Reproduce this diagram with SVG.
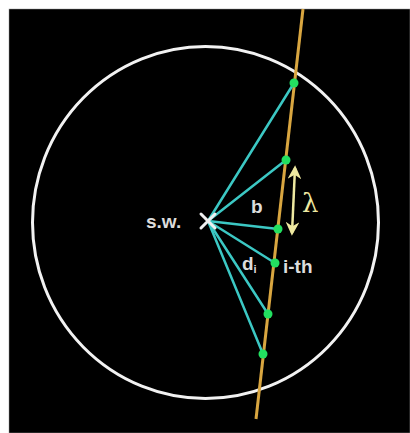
<svg xmlns="http://www.w3.org/2000/svg" width="410" height="433" viewBox="0 0 410 433">
<defs>
<style>
.ray{stroke:#3cc8c4;stroke-width:2.5;fill:none;stroke-linecap:round}
.dot{fill:#22e060}
.lbl{font-family:"Liberation Sans",Arial,sans-serif;font-weight:bold;fill:#dcdcdc;font-size:19px}
</style>
<marker id="ah" viewBox="0 0 10 10" refX="8" refY="5" markerWidth="5.5" markerHeight="5.5" orient="auto-start-reverse">
<path d="M0,0 L10,5 L0,10 L3,5 Z" fill="#eee8a0"/>
</marker>
</defs>
<rect x="0" y="0" width="410" height="433" fill="#ffffff"/>
<rect x="9" y="9" width="401" height="424" fill="#000000" stroke="#999" stroke-width="0.5"/>
<ellipse cx="205.5" cy="222.5" rx="173" ry="176" fill="none" stroke="#f2f2f2" stroke-width="3"/>
<line id="track" x1="303" y1="9" x2="256" y2="419" stroke="#d9a640" stroke-width="3"/>
<g id="connectors">
<line class="ray" x1="208" y1="221" x2="294" y2="83"/>
<line class="ray" x1="208" y1="221" x2="286" y2="160"/>
<line class="ray" x1="208" y1="221" x2="278" y2="229"/>
<line class="ray" x1="208" y1="221" x2="275" y2="263"/>
<line class="ray" x1="208" y1="221" x2="268" y2="314"/>
<line class="ray" x1="208" y1="221" x2="263" y2="354"/>
</g>
<g id="n1"><circle class="dot" cx="294" cy="83" r="4.5"/></g>
<g id="n2"><circle class="dot" cx="286" cy="160" r="4.5"/></g>
<g id="n3"><circle class="dot" cx="278" cy="229" r="4.5"/></g>
<g id="n4"><circle class="dot" cx="275" cy="263" r="4.5"/></g>
<g id="n5"><circle class="dot" cx="268" cy="314" r="4.5"/></g>
<g id="n6"><circle class="dot" cx="263" cy="354" r="4.5"/></g>
<g id="sw">
<path d="M201,214 L215,228 M215,214 L201,228" stroke="#f0f0f0" stroke-width="3" stroke-linecap="round"/>
<text class="lbl" x="146" y="228">s.w.</text>
</g>
<g id="lambda">
<line x1="295" y1="168" x2="292" y2="233" stroke="#eee8a0" stroke-width="2.5" marker-start="url(#ah)" marker-end="url(#ah)"/>
<text x="302" y="212" font-family="DejaVu Serif,serif" font-size="26" fill="#eee8a0">λ</text>
</g>
<text class="lbl" x="251" y="213">b</text>
<text class="lbl" x="242" y="270">d<tspan font-size="11" dy="3">i</tspan></text>
<text class="lbl" x="283" y="273" font-size="17">i-th</text>
</svg>
